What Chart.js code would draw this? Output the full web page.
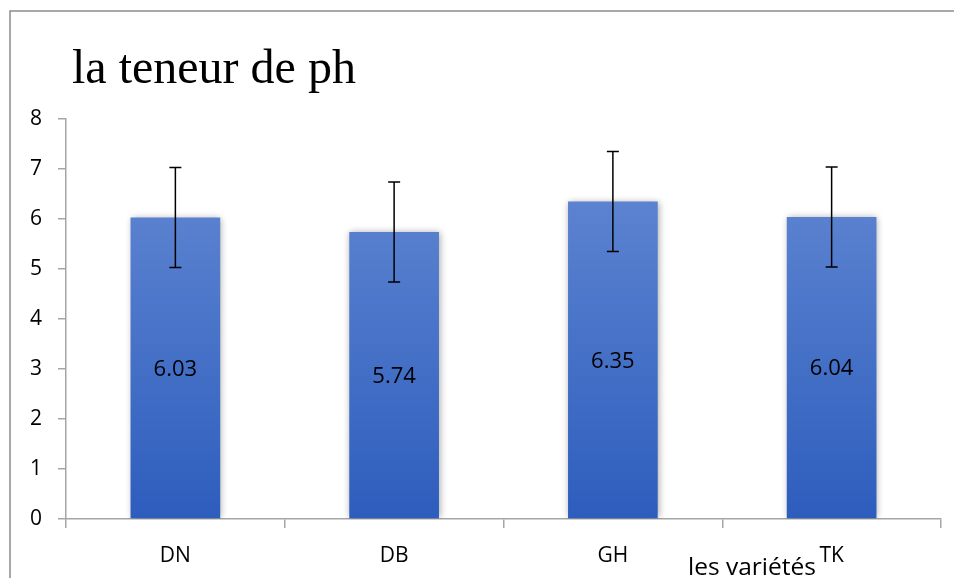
<!DOCTYPE html>
<html lang="fr">
<head>
  <meta charset="UTF-8">
  <title>la teneur de ph</title>
  <script src="https://cdn.jsdelivr.net/npm/chart.js"></script>
  <style>
    html, body { margin: 0; padding: 0; background: #fff; }
    #wrap { width: 954px; height: 578px; }
  </style>
</head>
<body>
  <div id="wrap"><canvas id="phChart" width="954" height="578"></canvas></div>

  <script>
    // pH moyen par variété, avec écart-type
    const varietes = ['DN', 'DB', 'GH', 'TK'];
    const phMoyen = [6.03, 5.74, 6.35, 6.04];
    const ecartType = [1, 1, 1, 1];
    const yTicks = [0, 1, 2, 3, 4, 5, 6, 7, 8];

    const titre = 'la teneur de ph';
    const titreAxeX = 'les variétés';
    const sansFont = '"Open Sans", "Liberation Sans", sans-serif';

    // cadre, titre et titre de l'axe X
    const decorPlugin = {
      id: 'decor',
      beforeDraw(chart) {
        const c = chart.ctx;
        c.save();
        c.fillStyle = '#fff';
        c.fillRect(0, 0, chart.width, chart.height);
        c.strokeStyle = '#8c8c8c';
        c.lineWidth = 1.5;
        c.strokeRect(10, 11, chart.width + 20, chart.height + 20);
        c.restore();
      },
      afterDraw(chart) {
        const c = chart.ctx;
        c.save();
        c.fillStyle = '#000';
        c.textBaseline = 'alphabetic';
        c.textAlign = 'left';
        c.font = '48px "Liberation Serif", "Times New Roman", serif';
        c.fillText(titre, 72, 83);
        c.font = '24.5px ' + sansFont;
        c.fillText(titreAxeX, 688, 575);
        c.restore();
      }
    };

    // ombre légère sous les barres
    const shadowPlugin = {
      id: 'barShadow',
      beforeDatasetDraw(chart) {
        const c = chart.ctx;
        c.save();
        c.shadowColor = 'rgba(0,0,0,0.35)';
        c.shadowBlur = 7;
        c.shadowOffsetX = 1;
        c.shadowOffsetY = 0;
      },
      afterDatasetDraw(chart) {
        chart.ctx.restore();
      }
    };

    // barres d'erreur et étiquettes de valeur
    const errorPlugin = {
      id: 'errorBars',
      afterDatasetsDraw(chart) {
        const c = chart.ctx;
        const y = chart.scales.y;
        const meta = chart.getDatasetMeta(0);
        c.save();
        meta.data.forEach((bar, i) => {
          const v = phMoyen[i];
          const e = ecartType[i];
          const top = y.getPixelForValue(v + e);
          const bot = y.getPixelForValue(v - e);
          c.strokeStyle = '#000';
          c.lineWidth = 1.5;
          c.beginPath();
          c.moveTo(bar.x, top);
          c.lineTo(bar.x, bot);
          c.moveTo(bar.x - 6, top);
          c.lineTo(bar.x + 6, top);
          c.moveTo(bar.x - 6, bot);
          c.lineTo(bar.x + 6, bot);
          c.stroke();

          c.fillStyle = '#000';
          c.font = '22px ' + sansFont;
          c.textAlign = 'center';
          c.textBaseline = 'middle';
          c.fillText(v.toFixed(2), bar.x, y.getPixelForValue(v / 2) + 1);
        });
        c.restore();
      }
    };

    const ctx = document.getElementById('phChart').getContext('2d');
    new Chart(ctx, {
      type: 'bar',
      data: {
        labels: varietes,
        datasets: [{
          data: phMoyen,
          backgroundColor: (context) => {
            const area = context.chart.chartArea;
            if (!area) return '#4a72c8';
            const g = context.chart.ctx.createLinearGradient(0, area.top + 80, 0, area.bottom);
            g.addColorStop(0, '#5c83d0');
            g.addColorStop(1, '#2d5dbd');
            return g;
          },
          borderWidth: 0,
          barPercentage: 0.41,
          categoryPercentage: 1.0
        }]
      },
      options: {
        responsive: false,
        animation: false,
        layout: { padding: { left: 10, top: 119, right: 13, bottom: 0 } },
        plugins: {
          legend: { display: false },
          title: { display: false },
          tooltip: { enabled: false }
        },
        scales: {
          x: {
            offset: true,
            grid: {
              offset: true,
              drawOnChartArea: false,
              drawTicks: true,
              tickLength: 9,
              color: '#a6a6a6',
              lineWidth: 1.5
            },
            border: { color: '#a6a6a6', width: 1.5 },
            ticks: {
              color: '#000',
              font: { family: sansFont, size: 21 },
              padding: 15
            },
            afterFit(scale) { scale.height = 59; }
          },
          y: {
            min: 0,
            max: 8,
            afterBuildTicks(scale) {
              scale.ticks = yTicks.map(v => ({ value: v }));
            },
            grid: {
              drawOnChartArea: false,
              drawTicks: true,
              tickLength: 8,
              color: '#a6a6a6',
              lineWidth: 1.5
            },
            border: { color: '#a6a6a6', width: 1.5 },
            ticks: {
              color: '#000',
              font: { family: sansFont, size: 21 },
              padding: 16
            },
            afterFit(scale) { scale.width = 56; }
          }
        }
      },
      plugins: [decorPlugin, shadowPlugin, errorPlugin]
    });
  </script>
</body>
</html>
